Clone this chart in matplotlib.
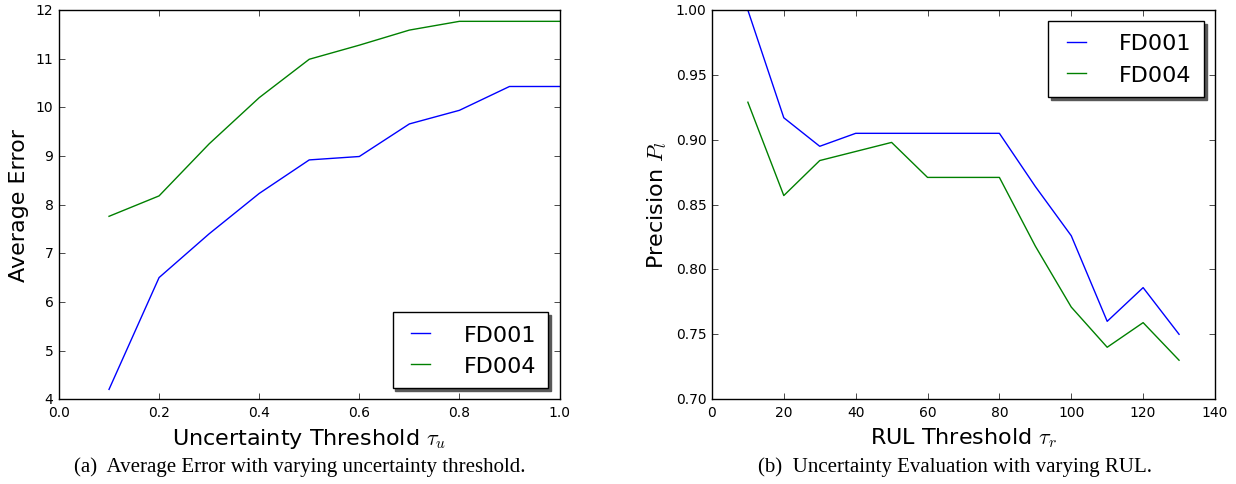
import matplotlib
matplotlib.use('Agg')
import matplotlib.pyplot as plt

# (a) average error vs uncertainty threshold
tau_u = [0.1, 0.2, 0.3, 0.4, 0.5, 0.6, 0.7, 0.8, 0.9, 1.0]
err_fd001 = [4.2, 6.5, 7.4, 8.23, 8.92, 8.99, 9.66, 9.94, 10.43, 10.43]
err_fd004 = [7.76, 8.18, 9.25, 10.2, 10.99, 11.28, 11.59, 11.77, 11.77, 11.77]

# (b) precision vs RUL threshold
tau_r = [10, 20, 30, 40, 50, 60, 70, 80, 90, 100, 110, 120, 130]
prec_fd001 = [1.0, 0.917, 0.895, 0.905, 0.905, 0.905, 0.905, 0.905,
              0.864, 0.826, 0.760, 0.786, 0.750]
prec_fd004 = [0.929, 0.857, 0.884, 0.891, 0.898, 0.871, 0.871, 0.871,
              0.818, 0.771, 0.740, 0.759, 0.730]

plt.style.use('classic')
plt.rcParams['figure.facecolor'] = 'white'
plt.rcParams['savefig.facecolor'] = 'white'
plt.rcParams['font.family'] = 'DejaVu Sans'
plt.rcParams['mathtext.fontset'] = 'cm'

fig = plt.figure(figsize=(12.36, 4.85), dpi=100)
ax1 = fig.add_axes([0.0477, 0.175, 0.405, 0.802])
ax2 = fig.add_axes([0.576, 0.175, 0.407, 0.802])

leg_kw = dict(shadow={'color': '0.35', 'alpha': 1.0}, fontsize=16,
              handlelength=1.45, handletextpad=1.2, borderpad=0.55,
              labelspacing=0.5)

ax1.plot(tau_u, err_fd001, color='b', lw=1, label='FD001')
ax1.plot(tau_u, err_fd004, color='g', lw=1, label='FD004')
ax1.set_xlim(0, 1.0)
ax1.set_ylim(4, 12)
ax1.set_xlabel(r'Uncertainty Threshold $\tau_u$', fontsize=16)
ax1.set_ylabel('Average Error', fontsize=16)
ax1.legend(loc='lower right', **leg_kw)

ax2.plot(tau_r, prec_fd001, color='b', lw=1, label='FD001')
ax2.plot(tau_r, prec_fd004, color='g', lw=1, label='FD004')
ax2.set_xlim(0, 140)
ax2.set_ylim(0.70, 1.00)
ax2.set_yticks([0.70, 0.75, 0.80, 0.85, 0.90, 0.95, 1.00])
ax2.set_xlabel(r'RUL Threshold $\tau_r$', fontsize=16)
ax2.set_ylabel(r'Precision $P_l$', fontsize=16)
ax2.legend(loc='upper right', **leg_kw)

for ax in (ax1, ax2):
    ax.tick_params(labelsize=10, direction='in', top=True, right=True)

fig.text(0.2427, 0.037, '(a)  Average Error with varying uncertainty threshold.',
         ha='center', va='center', fontsize=15, family='Liberation Serif')
fig.text(0.7727, 0.037, '(b)  Uncertainty Evaluation with varying RUL.',
         ha='center', va='center', fontsize=15, family='Liberation Serif')

fig.savefig('out.png', dpi=100)
